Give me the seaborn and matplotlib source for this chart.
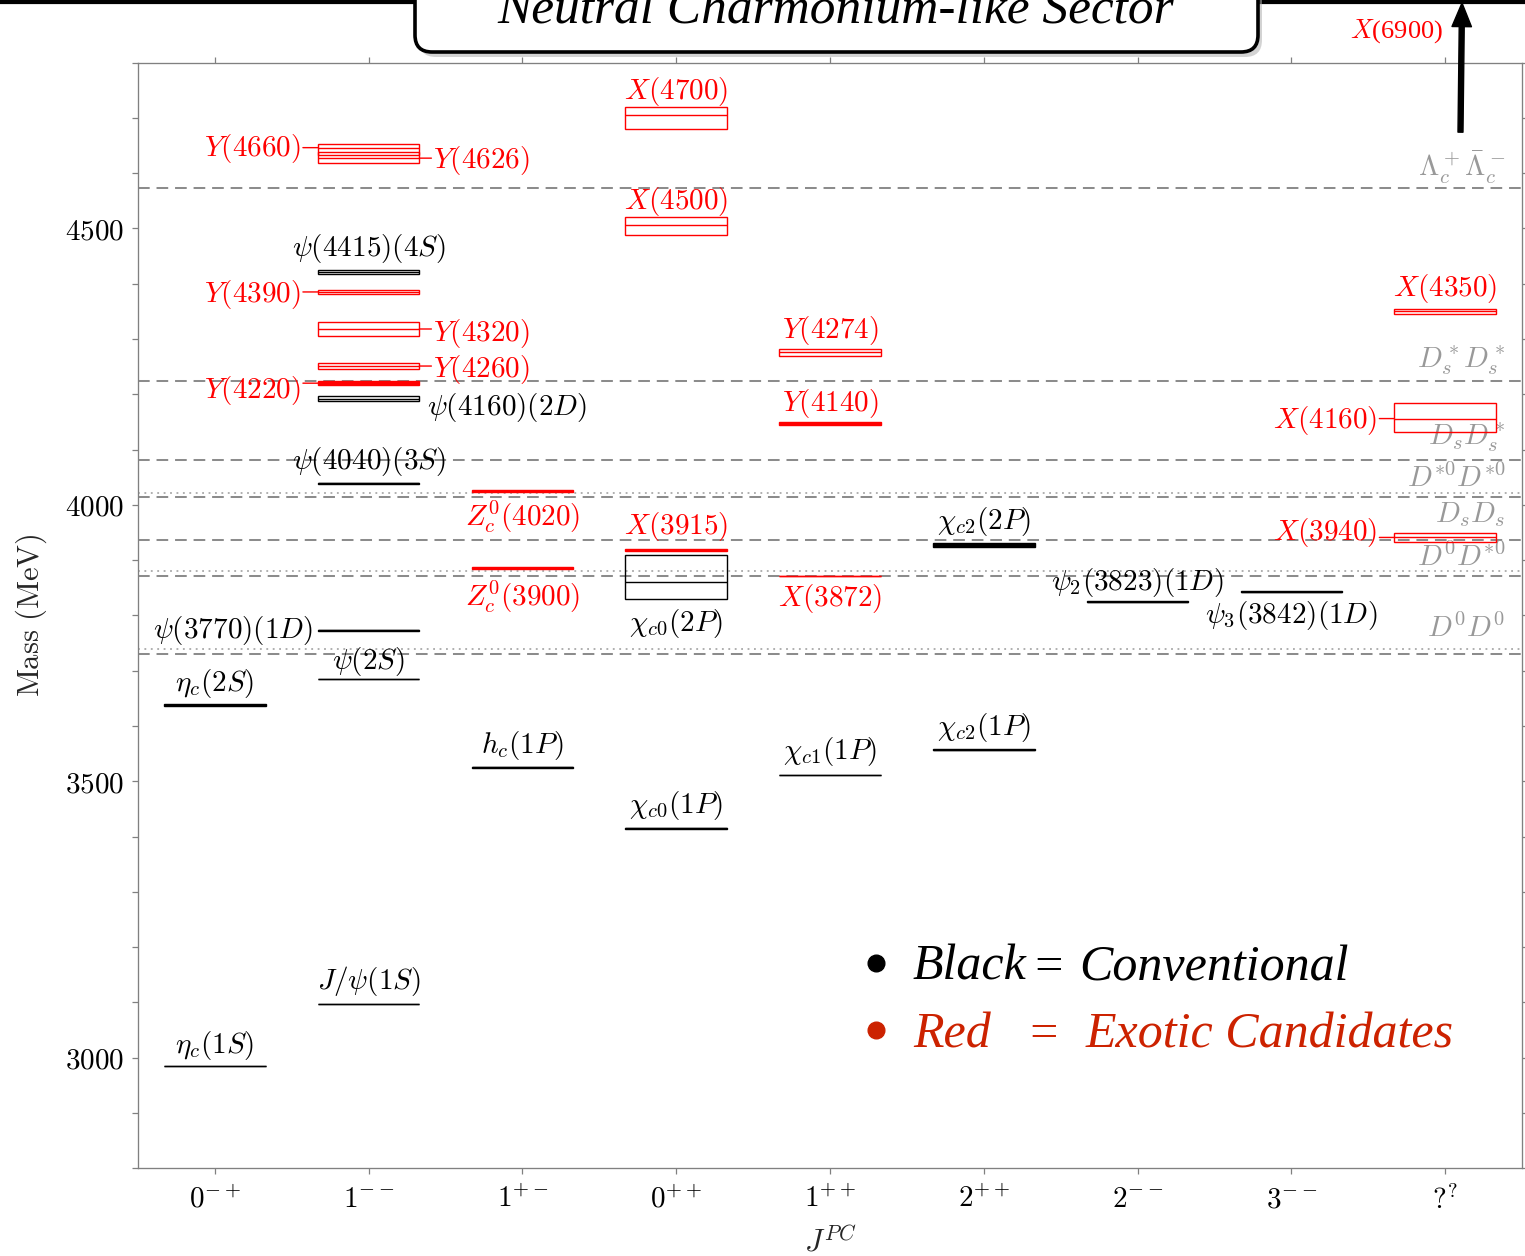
import matplotlib
matplotlib.use("Agg")
import matplotlib.pyplot as plt
import seaborn as sns
import pandas as pd
from matplotlib.patches import Rectangle, FancyBboxPatch
from matplotlib.lines import Line2D
from matplotlib.ticker import MultipleLocator

# ---------------------------------------------------------------------------
# J^PC columns
jpc_labels = [r"$0^{-+}$", r"$1^{--}$", r"$1^{+-}$", r"$0^{++}$", r"$1^{++}$",
              r"$2^{++}$", r"$2^{--}$", r"$3^{--}$", r"$?^{?}$"]

# Charmonium(-like) states: label, J^PC column, central mass and band (MeV)
state_labels = [
    r"$\eta_c(1S)$", r"$\eta_c(2S)$",
    r"$J/\psi(1S)$", r"$\psi(2S)$", r"$\psi(3770)(1D)$", r"$\psi(4040)(3S)$",
    r"$\psi(4160)(2D)$", r"$Y(4220)$", r"$Y(4260)$", r"$Y(4320)$", r"$Y(4390)$",
    r"$\psi(4415)(4S)$", r"$Y(4626)$", r"$Y(4660)$",
    r"$h_c(1P)$", r"$Z_c^0(3900)$", r"$Z_c^0(4020)$",
    r"$\chi_{c0}(1P)$", r"$\chi_{c0}(2P)$", r"$X(3915)$", r"$X(4500)$", r"$X(4700)$",
    r"$\chi_{c1}(1P)$", r"$X(3872)$", r"$Y(4140)$", r"$Y(4274)$",
    r"$\chi_{c2}(1P)$", r"$\chi_{c2}(2P)$",
    r"$\psi_2(3823)(1D)$",
    r"$\psi_3(3842)(1D)$",
    r"$X(3940)$", r"$X(4160)$", r"$X(4350)$",
]
state_columns = [0, 0,
                 1, 1, 1, 1, 1, 1, 1, 1, 1, 1, 1, 1,
                 2, 2, 2,
                 3, 3, 3, 3, 3,
                 4, 4, 4, 4,
                 5, 5,
                 6,
                 7,
                 8, 8, 8]
state_masses = [2985.0, 3637.5,
                3097.0, 3685.0, 3773.0, 4039.0, 4192.0, 4220.0, 4251.0, 4318.0, 4385.0,
                4421.0, 4627.0, 4646.0,
                3525.0, 3886.0, 4025.0,
                3415.0, 3861.0, 3918.0, 4506.0, 4705.0,
                3511.0, 3871.5, 4146.5, 4276.0,
                3557.0, 3927.5,
                3825.0,
                3843.0,
                3941.0, 4156.0, 4350.0]
state_lower = [2985.0, 3635.8,
               3096.5, 3684.5, 3772.5, 4037.8, 4187.2, 4216.5, 4246.2, 4305.0, 4381.2,
               4416.8, 4619.0, 4633.0,
               3524.5, 3883.6, 4022.6,
               3414.0, 3829.0, 3915.9, 4488.0, 4680.0,
               3510.5, 3871.5, 4144.1, 4270.0,
               3556.5, 3924.5,
               3824.2,
               3842.5,
               3933.2, 4131.0, 4346.0]
state_upper = [2985.0, 3639.2,
               3097.5, 3685.5, 3773.5, 4040.2, 4196.8, 4223.5, 4255.8, 4331.0, 4388.8,
               4425.2, 4639.0, 4652.0,
               3525.5, 3888.4, 4027.4,
               3416.0, 3909.0, 3920.1, 4520.0, 4719.0,
               3511.5, 3871.5, 4148.9, 4282.0,
               3557.5, 3930.5,
               3825.8,
               3843.5,
               3948.8, 4185.0, 4354.0]
state_exotic = [False, False,
                False, False, False, False, False, True, True, True, True,
                False, True, True,
                False, True, True,
                False, False, True, True, True,
                False, True, True, True,
                False, False,
                False,
                False,
                True, True, True]

# Open-charm / baryon pair thresholds (MeV)
threshold_labels = [r"$\Lambda_c^+\bar{\Lambda}_c^-$", r"$D_s^*D_s^*$", r"$D_sD_s^*$",
                    r"$D^{*0}D^{*0}$", r"$D_sD_s$", r"$D^0D^{*0}$", r"$D^0D^0$"]
threshold_masses = [4572.9, 4224.4, 4080.5, 4013.7, 3936.7, 3871.7, 3729.7]
charged_threshold_masses = [4020.5, 3879.9, 3739.3]

x6900_label = r"$X$(6900)"
x6900_arrow_base = 4674.0

# ---------------------------------------------------------------------------
# label placement for each state: side and baseline offset (pixels)
label_side = ["above", "above",
              "above", "above", "left_plain", "above", "right_plain", "left", "right",
              "right", "left", "above", "right", "left",
              "above", "below", "below",
              "above", "below", "above", "above", "above",
              "above", "below", "above", "above",
              "above", "above",
              "above",
              "below",
              "left", "left", "above"]
label_dy = [13, 14.5,
            15, 10, -7.5, 14, -16, -14.5, -11, -12, -10.5, 16, -9.5, -8,
            14.5, -38, -35,
            15.5, -49, 16, 16, 16,
            16, -30, 13, 14.5,
            15, 15.5,
            12,
            -31,
            -3, -9, 15]
threshold_dy = [2, 4, 6, 4, 11, 4, 11]

# ---------------------------------------------------------------------------
sns.set_theme(style="ticks")
plt.rcParams.update({
    "mathtext.fontset": "cm",
    "axes.unicode_minus": False,
})
plt.rcParams["font.family"] = ["DejaVu Serif"]

W, H, DPI = 1525, 1256, 100
PX = 72.0 / DPI          # points per pixel
RED = "#ff0000"
GRID_GRAY = "#8c8c8c"
LEGEND_RED = "#cc2200"
FS = 21
LW = 1.4 * PX

fig = plt.figure(figsize=(W / DPI, H / DPI), dpi=DPI, facecolor="white")
ax = fig.add_axes([138 / W, (H - 1168.3) / H, (1522 - 138) / W, (1168.3 - 62.5) / H])
ax.set_xlim(-0.5, 8.5)
ax.set_ylim(2800, 4800)
px_per_mev = (1168.3 - 62.5) / 2000.0

states = pd.DataFrame({
    "label": state_labels, "col": state_columns, "mass": state_masses,
    "lo": state_lower, "hi": state_upper, "exotic": state_exotic,
    "side": label_side, "dy": label_dy,
})
# narrow bands render as solid bars
states["solid"] = (states["hi"] - states["lo"]) * px_per_mev < 4.0

# thresholds
for m in threshold_masses:
    ax.axhline(m, color=GRID_GRAY, lw=1.45, ls=(0, (5.8, 3.4)), zorder=1)
for m in charged_threshold_masses:
    ax.axhline(m, color="#9a9a9a", lw=1.1, ls=(0, (1.2, 3.0)), zorder=1)
for lab, m, dy in zip(threshold_labels, threshold_masses, threshold_dy):
    ax.annotate(lab, xy=(0.988, m), xycoords=("axes fraction", "data"),
                xytext=(0, dy * PX), textcoords="offset points",
                ha="right", va="bottom", fontsize=FS, color="#999999", zorder=2)

# levels
half = 0.33
for r in states.itertuples():
    c = RED if r.exotic else "black"
    ax.add_patch(Rectangle((r.col - half, r.lo), 2 * half, r.hi - r.lo,
                           facecolor=c if r.solid else "none", edgecolor=c,
                           lw=LW, zorder=3))
    ax.hlines(r.mass, r.col - half, r.col + half, color=c, lw=LW, zorder=3)
    if r.side in ("above", "below"):
        ax.annotate(r.label, xy=(r.col, r.mass), xytext=(0, r.dy * PX),
                    textcoords="offset points", ha="center", va="baseline",
                    fontsize=FS, color=c, zorder=4)
    elif r.side.startswith("left"):
        edge = r.col - half
        gap = 5 if r.side == "left_plain" else 17
        if r.side == "left":
            ax.annotate("", xy=(edge, r.mass), xytext=(-15 * PX, 0),
                        textcoords="offset points",
                        arrowprops=dict(arrowstyle="-", color=c, lw=LW,
                                        shrinkA=0, shrinkB=0), zorder=3)
        ax.annotate(r.label, xy=(edge, r.mass), xytext=(-gap * PX, r.dy * PX),
                    textcoords="offset points", ha="right", va="baseline",
                    fontsize=FS, color=c, zorder=4)
    else:
        edge = r.col + half
        gap = 8 if r.side == "right_plain" else 14
        if r.side == "right":
            ax.annotate("", xy=(edge, r.mass), xytext=(12 * PX, 0),
                        textcoords="offset points",
                        arrowprops=dict(arrowstyle="-", color=c, lw=LW,
                                        shrinkA=0, shrinkB=0), zorder=3)
        ax.annotate(r.label, xy=(edge, r.mass), xytext=(gap * PX, r.dy * PX),
                    textcoords="offset points", ha="left", va="baseline",
                    fontsize=FS, color=c, zorder=4)

# axes styling
ax.set_xticks(range(len(jpc_labels)))
ax.set_xticklabels(jpc_labels)
ax.set_yticks([3000, 3500, 4000, 4500])
ax.set_yticklabels([r"$3000$", r"$3500$", r"$4000$", r"$4500$"])
ax.yaxis.set_minor_locator(MultipleLocator(100))
ax.tick_params(axis="both", which="both", direction="out", length=4.3, width=0.9,
               color="#808080", top=True, right=True, labelsize=FS, labelcolor="black")
ax.tick_params(axis="x", which="minor", bottom=False, top=False)
ax.tick_params(axis="x", pad=8)
ax.tick_params(axis="y", pad=6)
for s in ax.spines.values():
    s.set_color("#808080")
    s.set_linewidth(0.95)
ax.set_xlabel(r"$J^{PC}$", fontsize=22, labelpad=8)
ax.set_ylabel(r"$\mathrm{Mass\ (MeV)}$", fontsize=22, labelpad=11)
ax.grid(False)

# X(6900) pointer above the frame
ax.annotate("", xy=(1462 / W, 1 - 3 / H), xycoords="figure fraction",
            xytext=(8.10, x6900_arrow_base), textcoords="data",
            arrowprops=dict(facecolor="black", edgecolor="black", width=3.6,
                            headwidth=14, headlength=17, shrink=0),
            annotation_clip=False, zorder=6)
fig.text(1397 / W, 1 - 38 / H, x6900_label, ha="center", va="baseline",
         fontsize=19, color=RED, family=["Liberation Serif", "DejaVu Serif"])

# colour key
key_font = dict(family=["Liberation Serif", "DejaVu Serif"], style="italic", fontsize=36)
fig.add_artist(Line2D([876 / W], [1 - 963 / H], marker="o", ms=12, color="black",
                      transform=fig.transFigure))
fig.add_artist(Line2D([876 / W], [1 - 1030 / H], marker="o", ms=12, color=LEGEND_RED,
                      transform=fig.transFigure))
fig.text(913 / W, 1 - 980 / H, "Black", ha="left", va="baseline", color="black", **key_font)
fig.text(1048 / W, 1 - 980 / H, "=", ha="center", va="baseline", color="black", **key_font)
fig.text(1079 / W, 1 - 980 / H, "Conventional", ha="left", va="baseline", color="black", **key_font)
fig.text(913 / W, 1 - 1047 / H, "Red", ha="left", va="baseline", color=LEGEND_RED, **key_font)
fig.text(1043 / W, 1 - 1047 / H, "=", ha="center", va="baseline", color=LEGEND_RED, **key_font)
fig.text(1086 / W, 1 - 1047 / H, "Exotic Candidates", ha="left", va="baseline",
         color=LEGEND_RED, **key_font)

# heading banner
inch = fig.dpi_scale_trans
fig.add_artist(Line2D([0, W / DPI], [(H - 1.5) / DPI, (H - 1.5) / DPI], color="black",
                      lw=3.0 * PX * 1.4, transform=inch, zorder=7))
shadow = FancyBboxPatch((419 / DPI, (H - 57) / DPI), (1258 - 415) / DPI, 1.2,
                        boxstyle="round,pad=0,rounding_size=0.17", transform=inch,
                        facecolor="#b0b0b0", edgecolor="none", alpha=0.55, zorder=8)
banner = FancyBboxPatch((415 / DPI, (H - 52) / DPI), (1258 - 415) / DPI, 1.2,
                        boxstyle="round,pad=0,rounding_size=0.17", transform=inch,
                        facecolor="white", edgecolor="black", lw=2.6, zorder=9)
fig.add_artist(shadow)
fig.add_artist(banner)
fig.text(836 / W, 1 - 23 / H, "Neutral Charmonium-like Sector", ha="center",
         va="baseline", family=["Liberation Serif", "DejaVu Serif"], style="italic",
         fontsize=37, color="black", zorder=10)

fig.savefig("out.png", dpi=DPI, facecolor="white")
